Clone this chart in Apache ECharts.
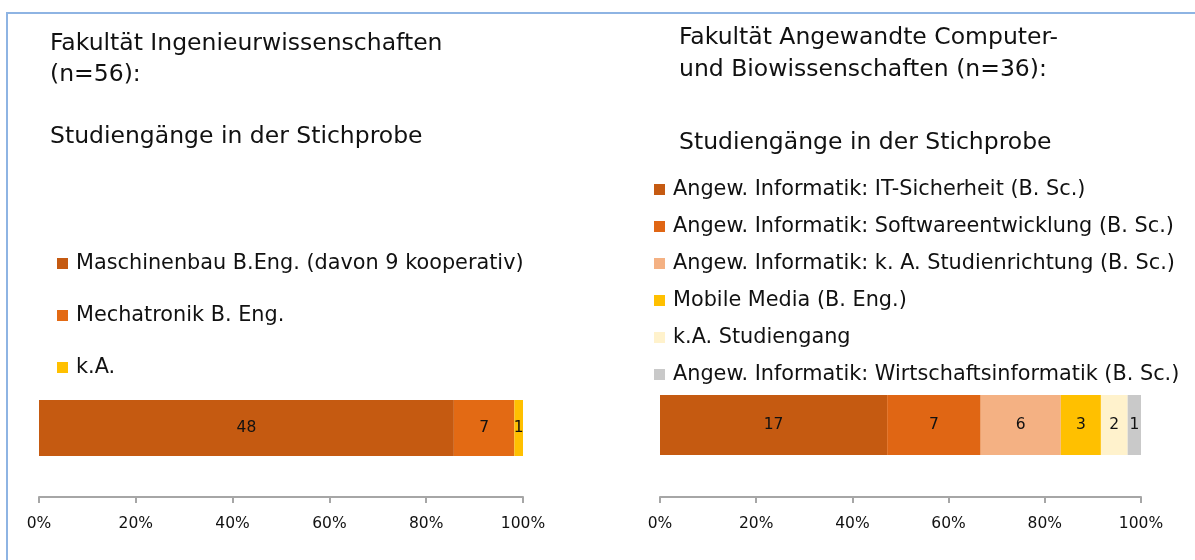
<!DOCTYPE html>
<html><head><meta charset="utf-8">
<script src="https://cdn.jsdelivr.net/npm/echarts@6/dist/echarts.min.js"></script>
<style>html,body{margin:0;padding:0;background:#fff}#c{width:1195px;height:560px}</style>
</head><body><div id="c"></div>
<script>
// ---- data ----
const leftNames = ["Maschinenbau B.Eng. (davon 9 kooperativ)", "Mechatronik B. Eng.", "k.A."];
const leftCounts = [48, 7, 1];
const leftColors = ["#C55A11", "#E36A14", "#FFC000"];

const rightNames = [
  "Angew. Informatik: IT-Sicherheit (B. Sc.)",
  "Angew. Informatik: Softwareentwicklung (B. Sc.)",
  "Angew. Informatik: k. A. Studienrichtung (B. Sc.)",
  "Mobile Media (B. Eng.)",
  "k.A. Studiengang",
  "Angew. Informatik: Wirtschaftsinformatik (B. Sc.)"
];
const rightCounts = [17, 7, 6, 3, 2, 1];
const rightColors = ["#C55A11", "#E06614", "#F4B183", "#FFC000", "#FFF2CC", "#C9C9C9"];

const tickValues = [0, 20, 40, 60, 80, 100];
// ---------------

const FONT = "DejaVu Sans";
const chart = echarts.init(document.getElementById('c'), null, {renderer: 'canvas'});

function pctSeries(names, counts, colors, idx) {
  const total = counts.reduce((a, b) => a + b, 0);
  return names.map((n, i) => ({
    name: n,
    type: 'bar',
    stack: 's' + idx,
    xAxisIndex: idx,
    yAxisIndex: idx,
    barWidth: '100%',
    itemStyle: {color: colors[i]},
    label: {
      show: true, position: 'inside', color: '#111',
      fontFamily: FONT, fontSize: 15.5,
      formatter: () => String(counts[i])
    },
    emphasis: {disabled: true},
    data: [counts[i] / total * 100]
  }));
}

function xAxis(idx, offset) {
  return {
    type: 'value', gridIndex: idx, min: 0, max: 100, interval: 20,
    offset: offset,
    axisLine: {show: true, lineStyle: {color: '#A6A6A6', width: 2}},
    axisTick: {show: true, length: 6, lineStyle: {color: '#A6A6A6', width: 2}},
    splitLine: {show: false},
    axisLabel: {
      margin: 19, color: '#111', fontFamily: FONT, fontSize: 15.5,
      formatter: v => tickValues.includes(v) ? v + '%' : ''
    }
  };
}

function yAxis(idx) {
  return {
    type: 'category', gridIndex: idx, data: [''],
    axisLine: {show: false}, axisTick: {show: false}, axisLabel: {show: false}
  };
}

const titleStyle = {fontFamily: FONT, fontSize: 23.5, fontWeight: 'normal', color: '#111', lineHeight: 24};
const legendText = {fontFamily: FONT, fontSize: 20.8, color: '#111', lineHeight: 21, padding: [0, 0, 0, 3]};

chart.setOption({
  animation: false,
  title: [
    {text: 'Fakultät Ingenieurwissenschaften', left: 45, top: 27, textStyle: titleStyle},
    {text: '(n=56):', left: 45, top: 58, textStyle: titleStyle},
    {text: 'Studiengänge in der Stichprobe', left: 45, top: 120, textStyle: titleStyle},
    {text: 'Fakultät Angewandte Computer-', left: 674, top: 21, textStyle: titleStyle},
    {text: 'und Biowissenschaften (n=36):', left: 674, top: 53, textStyle: titleStyle},
    {text: 'Studiengänge in der Stichprobe', left: 674, top: 126, textStyle: titleStyle}
  ],
  legend: [
    {
      data: leftNames, orient: 'vertical', left: 52, top: 248,
      itemWidth: 11, itemHeight: 11, itemGap: 31, icon: 'rect',
      selectedMode: false, textStyle: legendText
    },
    {
      data: rightNames, orient: 'vertical', left: 649, top: 174,
      itemWidth: 11, itemHeight: 11, itemGap: 16, icon: 'rect',
      selectedMode: false, textStyle: legendText
    }
  ],
  grid: [
    {left: 39, width: 484, top: 400, height: 56},
    {left: 660, width: 481, top: 395, height: 60}
  ],
  xAxis: [xAxis(0, 41), xAxis(1, 42)],
  yAxis: [yAxis(0), yAxis(1)],
  series: [].concat(pctSeries(leftNames, leftCounts, leftColors, 0),
                    pctSeries(rightNames, rightCounts, rightColors, 1)),
  graphic: [{
    type: 'polyline', silent: true,
    shape: {points: [[7, 560], [7, 13], [1195, 13]]},
    style: {stroke: '#8EB4E3', lineWidth: 2, fill: null}
  }]
});
</script></body></html>
